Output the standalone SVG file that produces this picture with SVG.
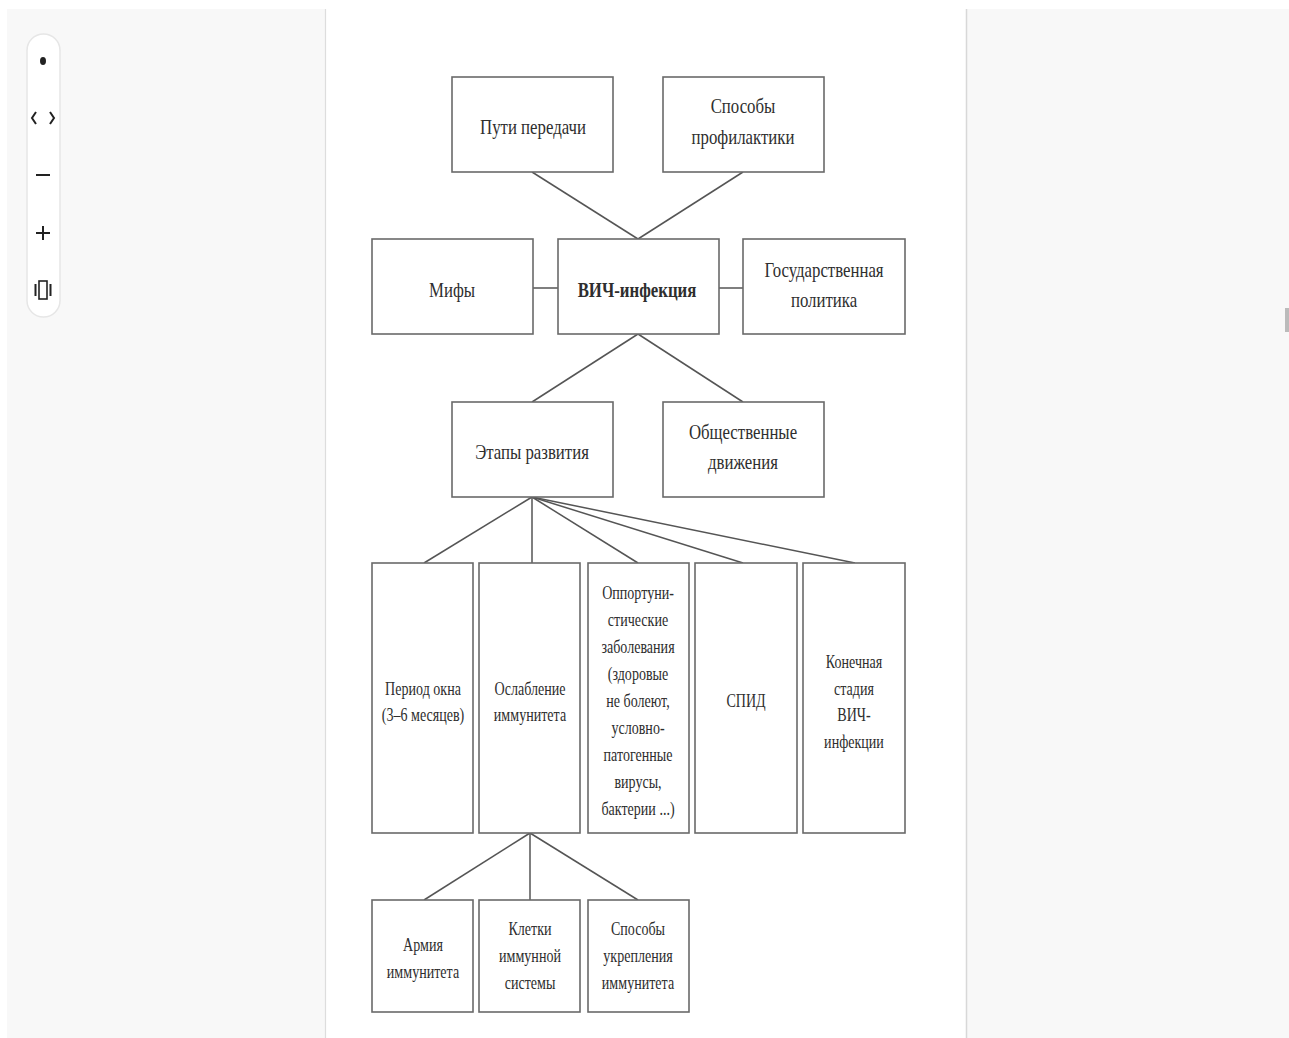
<svg xmlns="http://www.w3.org/2000/svg" width="1289" height="1038" viewBox="0 0 1289 1038">
<style>
.bg{fill:#f8f8f8}
.box{fill:#fff;stroke:#6a6a6a;stroke-width:1.6}
.t{font-family:"Liberation Serif","DejaVu Serif",serif;font-size:21px;fill:#2e2e2e;text-anchor:middle}
.s{font-size:19px}
.tb{font-weight:bold}
.ln{stroke:#555;stroke-width:1.5;fill:none}
.ui{stroke:#222;stroke-width:2;fill:none}
</style>
<rect x="0" y="0" width="1289" height="1038" fill="#fff"/>
<rect class="bg" x="7" y="9" width="1282" height="1029"/>
<rect x="326" y="9" width="640" height="1029" fill="#fff"/>
<line x1="325.5" y1="9" x2="325.5" y2="1038" stroke="#ddd" stroke-width="1.2"/>
<line x1="966.5" y1="9" x2="966.5" y2="1038" stroke="#d8d8d8" stroke-width="1.5"/>
<rect x="1285" y="308" width="4" height="24" fill="#bbb"/>
<g id="toolbar">
<rect x="27" y="34" width="33" height="283" rx="16.5" fill="#fff" stroke="#e6e6e6" stroke-width="1.5"/>
<ellipse cx="43" cy="61" rx="3" ry="4" fill="#222"/>
<path class="ui" d="M36 112 l-4 6 l4 6 M50 112 l4 6 l-4 6" stroke-width="1.5"/>
<line class="ui" x1="36" y1="175" x2="50" y2="175"/>
<path class="ui" d="M36 233 h14 M43 226 v14"/>
<rect x="39" y="281" width="8" height="18" fill="none" stroke="#222" stroke-width="1.6"/>
<path class="ui" d="M35.5 284 v12 M50.5 284 v12" stroke-width="1.4"/>
</g>
<g id="connectors">
<line class="ln" x1="532" y1="172" x2="638" y2="239"/>
<line class="ln" x1="743" y1="172" x2="638" y2="239"/>
<line class="ln" x1="533" y1="288" x2="558" y2="288"/>
<line class="ln" x1="719" y1="288" x2="743" y2="288"/>
<line class="ln" x1="638" y1="334" x2="532" y2="402"/>
<line class="ln" x1="638" y1="334" x2="743" y2="402"/>
<line class="ln" x1="532" y1="497" x2="424" y2="563"/>
<line class="ln" x1="532" y1="497" x2="532" y2="563"/>
<line class="ln" x1="532" y1="497" x2="638" y2="563"/>
<line class="ln" x1="532" y1="497" x2="743" y2="563"/>
<line class="ln" x1="532" y1="497" x2="855" y2="563"/>
<line class="ln" x1="530" y1="833" x2="424" y2="900"/>
<line class="ln" x1="530" y1="833" x2="530" y2="900"/>
<line class="ln" x1="530" y1="833" x2="638" y2="900"/>
</g>
<g id="n-puti"><rect class="box" x="452" y="77" width="161" height="95"/><text class="t" transform="translate(533 134) scale(0.8 1)">Пути передачи</text></g>
<g id="n-sposoby"><rect class="box" x="663" y="77" width="161" height="95"/><text class="t" transform="translate(743 113) scale(0.8 1)">Способы</text><text class="t" transform="translate(743 144) scale(0.8 1)">профилактики</text></g>
<g id="n-mify"><rect class="box" x="372" y="239" width="161" height="95"/><text class="t" transform="translate(452 297) scale(0.8 1)">Мифы</text></g>
<g id="n-vich"><rect class="box" x="558" y="239" width="161" height="95"/><text class="t tb" transform="translate(637 297) scale(0.8 1)">ВИЧ-инфекция</text></g>
<g id="n-gos"><rect class="box" x="743" y="239" width="162" height="95"/><text class="t" transform="translate(824 277) scale(0.8 1)">Государственная</text><text class="t" transform="translate(824 307) scale(0.8 1)">политика</text></g>
<g id="n-etapy"><rect class="box" x="452" y="402" width="161" height="95"/><text class="t" transform="translate(532 459) scale(0.8 1)">Этапы развития</text></g>
<g id="n-obsh"><rect class="box" x="663" y="402" width="161" height="95"/><text class="t" transform="translate(743 439) scale(0.8 1)">Общественные</text><text class="t" transform="translate(743 469) scale(0.8 1)">движения</text></g>
<g id="n-period"><rect class="box" x="372" y="563" width="101" height="270"/><text class="t s" transform="translate(423 695) scale(0.74 1)">Период окна</text><text class="t s" transform="translate(423 721) scale(0.74 1)">(3–6 месяцев)</text></g>
<g id="n-oslab"><rect class="box" x="479" y="563" width="101" height="270"/><text class="t s" transform="translate(530 695) scale(0.74 1)">Ослабление</text><text class="t s" transform="translate(530 721) scale(0.74 1)">иммунитета</text></g>
<g id="n-opport"><rect class="box" x="588" y="563" width="101" height="270"/>
<text class="t s" transform="translate(638 599) scale(0.74 1)">Оппортуни-</text>
<text class="t s" transform="translate(638 626) scale(0.74 1)">стические</text>
<text class="t s" transform="translate(638 653) scale(0.74 1)">заболевания</text>
<text class="t s" transform="translate(638 680) scale(0.74 1)">(здоровые</text>
<text class="t s" transform="translate(638 707) scale(0.74 1)">не болеют,</text>
<text class="t s" transform="translate(638 734) scale(0.74 1)">условно-</text>
<text class="t s" transform="translate(638 761) scale(0.74 1)">патогенные</text>
<text class="t s" transform="translate(638 788) scale(0.74 1)">вирусы,</text>
<text class="t s" transform="translate(638 815) scale(0.74 1)">бактерии ...)</text></g>
<g id="n-spid"><rect class="box" x="695" y="563" width="102" height="270"/><text class="t s" transform="translate(746 707) scale(0.74 1)">СПИД</text></g>
<g id="n-konech"><rect class="box" x="803" y="563" width="102" height="270"/><text class="t s" transform="translate(854 668) scale(0.74 1)">Конечная</text><text class="t s" transform="translate(854 695) scale(0.74 1)">стадия</text><text class="t s" transform="translate(854 721) scale(0.74 1)">ВИЧ-</text><text class="t s" transform="translate(854 748) scale(0.74 1)">инфекции</text></g>
<g id="n-armiya"><rect class="box" x="372" y="900" width="101" height="112"/><text class="t s" transform="translate(423 951) scale(0.74 1)">Армия</text><text class="t s" transform="translate(423 978) scale(0.74 1)">иммунитета</text></g>
<g id="n-kletki"><rect class="box" x="479" y="900" width="101" height="112"/><text class="t s" transform="translate(530 935) scale(0.74 1)">Клетки</text><text class="t s" transform="translate(530 962) scale(0.74 1)">иммунной</text><text class="t s" transform="translate(530 989) scale(0.74 1)">системы</text></g>
<g id="n-ukrep"><rect class="box" x="588" y="900" width="101" height="112"/><text class="t s" transform="translate(638 935) scale(0.74 1)">Способы</text><text class="t s" transform="translate(638 962) scale(0.74 1)">укрепления</text><text class="t s" transform="translate(638 989) scale(0.74 1)">иммунитета</text></g>
</svg>
